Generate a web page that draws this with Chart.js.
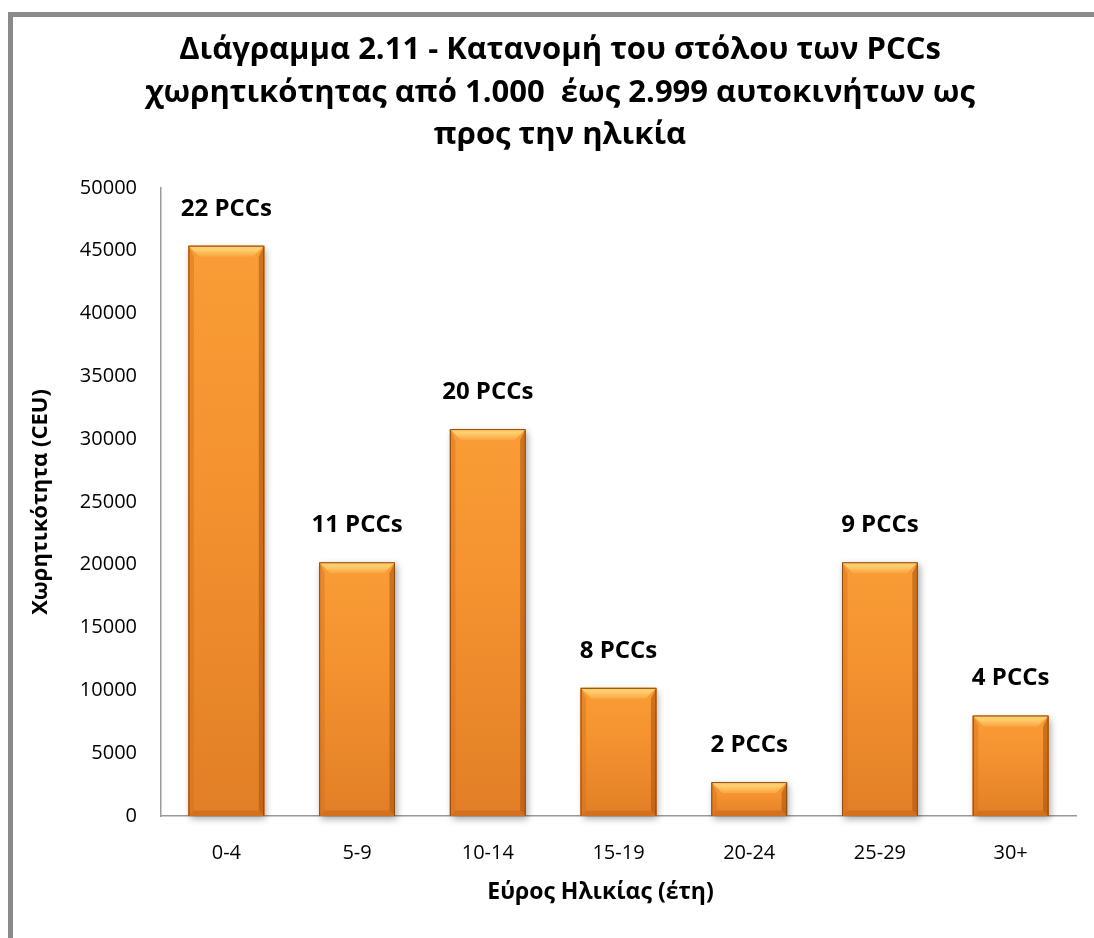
<!DOCTYPE html>
<html>
<head>
<meta charset="utf-8">
<script src="https://cdn.jsdelivr.net/npm/chart.js@4/dist/chart.umd.min.js"></script>
<style>
  html, body { margin: 0; padding: 0; background: #ffffff; }
  #wrap { width: 1094px; height: 938px; }
</style>
</head>
<body>
<div id="wrap"><canvas id="c" width="1094" height="938"></canvas></div>
<script>
// Age bands, fleet capacity per band (CEU) and number of PCCs per band
const categories = ['0-4', '5-9', '10-14', '15-19', '20-24', '25-29', '30+'];
const capacity = [45400, 20200, 30800, 10200, 2700, 20200, 8000];
const pccCounts = [22, 11, 20, 8, 2, 9, 4];
const yTicks = [0, 5000, 10000, 15000, 20000, 25000, 30000, 35000, 40000, 45000, 50000];

const titleLines = [
  'Διάγραμμα 2.11 - Κατανομή του στόλου των PCCs',
  'χωρητικότητας από 1.000  έως 2.999 αυτοκινήτων ως',
  'προς την ηλικία'
];
const xTitle = 'Εύρος Ηλικίας (έτη)';
const yTitle = 'Χωρητικότητα (CEU)';

const FONT = "'Open Sans', 'Noto Sans', sans-serif";

// Outer grey frame of the chart object
const framePlugin = {
  id: 'frame',
  beforeDraw(chart) {
    const ctx = chart.ctx;
    ctx.save();
    ctx.fillStyle = '#ffffff';
    ctx.fillRect(0, 0, chart.width, chart.height);
    ctx.strokeStyle = '#8a8a8a';
    ctx.lineWidth = 5;
    ctx.strokeRect(10.5, 14.5, chart.width + 40, chart.height + 40);
    ctx.restore();
  }
};

// Soft drop shadow under every bar
const shadowPlugin = {
  id: 'barShadow',
  beforeDatasetsDraw(chart) {
    const ctx = chart.ctx;
    const meta = chart.getDatasetMeta(0);
    ctx.save();
    meta.data.forEach(bar => {
      const p = bar.getProps(['x', 'y', 'width', 'base'], true);
      const l = p.x - p.width / 2;
      ctx.shadowColor = 'rgba(0,0,0,0.35)';
      ctx.shadowBlur = 7;
      ctx.shadowOffsetX = 2;
      ctx.shadowOffsetY = 3;
      ctx.fillStyle = '#e07d25';
      ctx.fillRect(l, p.y, p.width, p.base - p.y);
    });
    ctx.restore();
  }
};

// Bevelled face of each bar, drawn over the bar geometry
const bevelPlugin = {
  id: 'bevel',
  afterDatasetsDraw(chart) {
    const ctx = chart.ctx;
    const meta = chart.getDatasetMeta(0);
    ctx.save();
    meta.data.forEach(bar => {
      const p = bar.getProps(['x', 'y', 'width', 'base'], true);
      const l = p.x - p.width / 2, r = p.x + p.width / 2;
      const t = p.y, b = p.base;
      const h = b - t;
      const bv = Math.min(11, h / 2);

      // face
      const g = ctx.createLinearGradient(0, t, 0, b);
      g.addColorStop(0, '#fa9d36');
      g.addColorStop(0.45, '#f3912f');
      g.addColorStop(1, '#e27f27');
      ctx.fillStyle = g;
      ctx.fillRect(l, t, p.width, h);

      // top bevel
      const gt = ctx.createLinearGradient(0, t, 0, t + bv);
      gt.addColorStop(0, '#ffc86a');
      gt.addColorStop(0.35, '#ffcf6e');
      gt.addColorStop(1, '#fba542');
      ctx.fillStyle = gt;
      ctx.beginPath();
      ctx.moveTo(l, t); ctx.lineTo(r, t); ctx.lineTo(r - bv, t + bv); ctx.lineTo(l + bv, t + bv);
      ctx.closePath(); ctx.fill();

      // left bevel
      ctx.fillStyle = 'rgba(214,110,25,0.45)';
      ctx.beginPath();
      ctx.moveTo(l, t); ctx.lineTo(l + bv * 0.5, t + bv); ctx.lineTo(l + bv * 0.5, b - bv * 0.5); ctx.lineTo(l, b);
      ctx.closePath(); ctx.fill();

      // right bevel
      ctx.fillStyle = 'rgba(170,80,12,0.55)';
      ctx.beginPath();
      ctx.moveTo(r, t); ctx.lineTo(r - bv * 0.5, t + bv); ctx.lineTo(r - bv * 0.5, b - bv * 0.5); ctx.lineTo(r, b);
      ctx.closePath(); ctx.fill();

      // bottom bevel
      ctx.fillStyle = 'rgba(190,95,20,0.45)';
      ctx.beginPath();
      ctx.moveTo(l, b); ctx.lineTo(l + bv * 0.5, b - bv * 0.5); ctx.lineTo(r - bv * 0.5, b - bv * 0.5); ctx.lineTo(r, b);
      ctx.closePath(); ctx.fill();

      // edge lines
      ctx.strokeStyle = '#8c4a12';
      ctx.lineWidth = 1;
      ctx.beginPath();
      ctx.moveTo(l + 0.5, b); ctx.lineTo(l + 0.5, t + 0.5); ctx.lineTo(r - 0.5, t + 0.5); ctx.lineTo(r - 0.5, b);
      ctx.stroke();
    });
    ctx.restore();
  }
};

// "N PCCs" label above each bar
const countLabelPlugin = {
  id: 'countLabels',
  afterDatasetsDraw(chart) {
    const ctx = chart.ctx;
    const meta = chart.getDatasetMeta(0);
    ctx.save();
    ctx.font = `bold 24px ${FONT}`;
    ctx.fillStyle = '#000000';
    ctx.textAlign = 'center';
    ctx.textBaseline = 'middle';
    meta.data.forEach((bar, i) => {
      ctx.fillText(pccCounts[i] + ' PCCs', bar.x, bar.y - 37);
    });
    ctx.restore();
  }
};

// Horizontal axis title, set a little left of the plot centre
const xTitlePlugin = {
  id: 'xAxisTitle',
  afterDraw(chart) {
    const ctx = chart.ctx;
    const area = chart.chartArea;
    ctx.save();
    ctx.font = `bold 23px ${FONT}`;
    ctx.fillStyle = '#000000';
    ctx.textAlign = 'center';
    ctx.textBaseline = 'middle';
    ctx.fillText(xTitle, (area.left + area.right) / 2 - 18, area.bottom + 76);
    ctx.restore();
  }
};

new Chart(document.getElementById('c'), {
  type: 'bar',
  data: {
    labels: categories,
    datasets: [{
      data: capacity,
      backgroundColor: '#f28e2b',
      borderWidth: 0,
      categoryPercentage: 1,
      barPercentage: 0.58
    }]
  },
  options: {
    responsive: false,
    animation: false,
    devicePixelRatio: 1,
    layout: { padding: { left: 44, right: 18, top: 0, bottom: 0 } },
    plugins: {
      legend: { display: false },
      tooltip: { enabled: false },
      title: {
        display: true,
        text: titleLines,
        color: '#000000',
        font: { family: FONT, size: 31, weight: 'bold', lineHeight: 1.37 },
        padding: { top: 29, bottom: 31.5 }
      }
    },
    scales: {
      x: {
        grid: { display: false, drawTicks: false },
        border: { display: true, color: '#9a9a9a', width: 1.5 },
        ticks: { color: '#000000', font: { family: FONT, size: 20 }, padding: 25 },
        afterFit(scale) { scale.height = 122; }
      },
      y: {
        min: 0, max: 50000,
        grid: { display: false, drawTicks: false },
        border: { display: true, color: '#9a9a9a', width: 1.5 },
        afterBuildTicks(scale) { scale.ticks = yTicks.map(v => ({ value: v })); },
        ticks: {
          color: '#000000', font: { family: FONT, size: 20 }, padding: 24,
          callback: (v) => String(v)
        },
        title: {
          display: true, text: yTitle, color: '#000000',
          font: { family: FONT, size: 22, weight: 'bold', lineHeight: 1.2 },
          padding: { top: -16, bottom: 0 }
        },
        afterFit(scale) { scale.width = 117; }
      }
    }
  },
  plugins: [framePlugin, shadowPlugin, bevelPlugin, countLabelPlugin, xTitlePlugin]
});
</script>
</body>
</html>
